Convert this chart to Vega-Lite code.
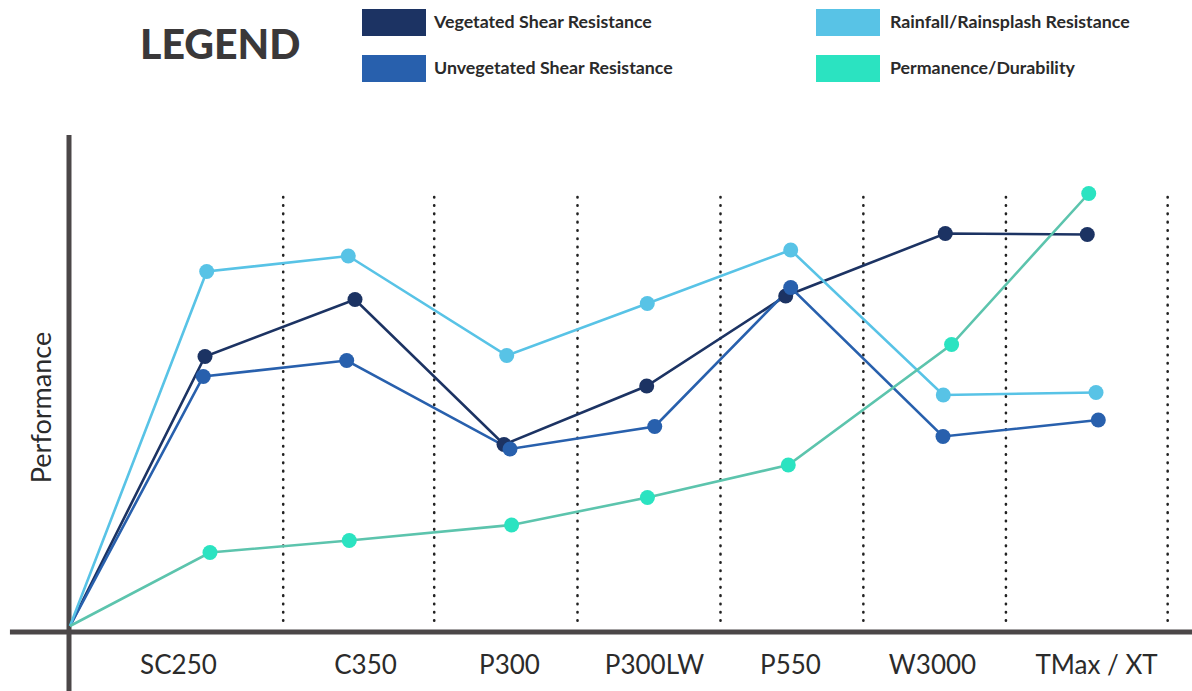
{
  "$schema": "https://vega.github.io/schema/vega-lite/v6.json",
  "width": 1192,
  "height": 691,
  "padding": 0,
  "autosize": {"type": "none"},
  "background": "#ffffff",
  "title": {
    "text": "LEGEND",
    "anchor": "start",
    "frame": "group",
    "orient": "top",
    "offset": 0,
    "dx": 140,
    "dy": 100,
    "baseline": "alphabetic",
    "font": "Lato",
    "fontSize": 41,
    "fontWeight": 900,
    "color": "#3a3839"
  },
  "config": {
    "view": {"stroke": null},
    "axis": {"grid": false, "ticks": false, "tickSize": 0, "domain": false}
  },
  "datasets": {
    "scores": [
      {"series": "Vegetated Shear Resistance", "product": "start", "pos": 0, "score": 0},
      {"series": "Vegetated Shear Resistance", "product": "SC250", "pos": 0.944, "score": 5.39},
      {"series": "Vegetated Shear Resistance", "product": "C350", "pos": 1.993, "score": 6.53},
      {"series": "Vegetated Shear Resistance", "product": "P300", "pos": 3.035, "score": 3.63},
      {"series": "Vegetated Shear Resistance", "product": "P300LW", "pos": 4.033, "score": 4.8},
      {"series": "Vegetated Shear Resistance", "product": "P550", "pos": 5.005, "score": 6.6},
      {"series": "Vegetated Shear Resistance", "product": "W3000", "pos": 6.121, "score": 7.85},
      {"series": "Vegetated Shear Resistance", "product": "TMax / XT", "pos": 7.114, "score": 7.83},
      {"series": "Unvegetated Shear Resistance", "product": "start", "pos": 0, "score": 0},
      {"series": "Unvegetated Shear Resistance", "product": "SC250", "pos": 0.932, "score": 4.99},
      {"series": "Unvegetated Shear Resistance", "product": "C350", "pos": 1.935, "score": 5.31},
      {"series": "Unvegetated Shear Resistance", "product": "P300", "pos": 3.077, "score": 3.54},
      {"series": "Unvegetated Shear Resistance", "product": "P300LW", "pos": 4.089, "score": 3.99},
      {"series": "Unvegetated Shear Resistance", "product": "P550", "pos": 5.04, "score": 6.77},
      {"series": "Unvegetated Shear Resistance", "product": "W3000", "pos": 6.105, "score": 3.79},
      {"series": "Unvegetated Shear Resistance", "product": "TMax / XT", "pos": 7.191, "score": 4.12},
      {"series": "Rainfall/Rainsplash Resistance", "product": "start", "pos": 0, "score": 0},
      {"series": "Rainfall/Rainsplash Resistance", "product": "SC250", "pos": 0.956, "score": 7.09},
      {"series": "Rainfall/Rainsplash Resistance", "product": "C350", "pos": 1.946, "score": 7.4},
      {"series": "Rainfall/Rainsplash Resistance", "product": "P300", "pos": 3.054, "score": 5.41},
      {"series": "Rainfall/Rainsplash Resistance", "product": "P300LW", "pos": 4.037, "score": 6.45},
      {"series": "Rainfall/Rainsplash Resistance", "product": "P550", "pos": 5.04, "score": 7.52},
      {"series": "Rainfall/Rainsplash Resistance", "product": "W3000", "pos": 6.107, "score": 4.62},
      {"series": "Rainfall/Rainsplash Resistance", "product": "TMax / XT", "pos": 7.175, "score": 4.67},
      {"series": "Permanence/Durability", "product": "start", "pos": 0, "score": 0},
      {"series": "Permanence/Durability", "product": "SC250", "pos": 0.979, "score": 1.47},
      {"series": "Permanence/Durability", "product": "C350", "pos": 1.953, "score": 1.71},
      {"series": "Permanence/Durability", "product": "P300", "pos": 3.088, "score": 2.02},
      {"series": "Permanence/Durability", "product": "P300LW", "pos": 4.038, "score": 2.57},
      {"series": "Permanence/Durability", "product": "P550", "pos": 5.023, "score": 3.22},
      {"series": "Permanence/Durability", "product": "W3000", "pos": 6.165, "score": 5.63},
      {"series": "Permanence/Durability", "product": "TMax / XT", "pos": 7.124, "score": 8.65}
    ],
    "dividers": [
      {"pos": 1.491}, {"pos": 2.547}, {"pos": 3.549}, {"pos": 4.549},
      {"pos": 5.548}, {"pos": 6.545}, {"pos": 7.676}
    ]
  },
  "layer": [
    {
      "data": {"name": "dividers"},
      "mark": {"type": "rule", "stroke": "#222222", "strokeWidth": 2.6, "strokeCap": "round", "strokeDash": [0.5, 7.8]},
      "encoding": {
        "x": {"field": "pos", "type": "quantitative", "scale": {"domain": [-0.4895, 7.8462], "nice": false, "zero": false}},
        "y": {"datum": 8.58, "type": "quantitative", "scale": {"domain": [-1.3, 12.52], "nice": false, "zero": false}},
        "y2": {"datum": 0.08}
      }
    },
    {
      "data": {"values": [{"edge": "bottom"}]},
      "mark": {"type": "rule", "stroke": "#4b4748", "strokeWidth": 5},
      "encoding": {
        "x": {"datum": -0.42, "type": "quantitative", "scale": {"domain": [-0.4895, 7.8462], "nice": false, "zero": false}},
        "x2": {"datum": 7.8462},
        "y": {"datum": -0.12, "type": "quantitative", "scale": {"domain": [-1.3, 12.52], "nice": false, "zero": false}}
      }
    },
    {
      "data": {"values": [{"edge": "left"}]},
      "mark": {"type": "rule", "stroke": "#4b4748", "strokeWidth": 5},
      "encoding": {
        "x": {"datum": -0.007, "type": "quantitative", "scale": {"domain": [-0.4895, 7.8462], "nice": false, "zero": false}},
        "y": {"datum": 9.82, "type": "quantitative", "scale": {"domain": [-1.3, 12.52], "nice": false, "zero": false}},
        "y2": {"datum": -1.3}
      }
    },
    {
      "data": {"name": "scores"},
      "mark": {"type": "line", "strokeWidth": 2.6},
      "encoding": {
        "x": {
          "field": "pos",
          "type": "quantitative",
          "scale": {"domain": [-0.4895, 7.8462], "nice": false, "zero": false},
          "axis": {
            "orient": "bottom",
            "offset": -59,
            "title": null,
            "values": [0.755, 2.063, 3.07, 4.084, 5.035, 6.028, 7.175],
            "labelExpr": "datum.value < 1.5 ? 'SC250' : datum.value < 2.5 ? 'C350' : datum.value < 3.5 ? 'P300' : datum.value < 4.5 ? 'P300LW' : datum.value < 5.5 ? 'P550' : datum.value < 6.5 ? 'W3000' : 'TMax / XT'",
            "labelFont": "Lato",
            "labelFontSize": 26,
            "labelColor": "#2b2b2b",
            "labelBaseline": "middle",
            "labelPadding": 33,
            "labelFlush": false,
            "labelOverlap": false,
            "labelBound": false
          }
        },
        "y": {
          "field": "score",
          "type": "quantitative",
          "scale": {"domain": [-1.3, 12.52], "nice": false, "zero": false},
          "axis": {
            "orient": "left",
            "offset": -69,
            "labels": false,
            "title": "Performance",
            "titleFont": "Lato",
            "titleFontSize": 27,
            "titleFontWeight": "normal",
            "titleColor": "#2b2b2b",
            "titleAngle": -90,
            "titleAlign": "center",
            "titleBaseline": "middle",
            "titleX": -27,
            "titleY": 407
          }
        },
        "stroke": {
          "field": "series",
          "type": "nominal",
          "legend": null,
          "scale": {
            "domain": ["Vegetated Shear Resistance", "Unvegetated Shear Resistance", "Rainfall/Rainsplash Resistance", "Permanence/Durability"],
            "range": ["#1c3363", "#2860ad", "#58c3e6", "#5cc4ad"]
          }
        }
      }
    },
    {
      "data": {"name": "scores"},
      "transform": [
        {"filter": "datum.product !== 'start'"},
        {"filter": "datum.series === 'Vegetated Shear Resistance' || datum.series === 'Unvegetated Shear Resistance'"}
      ],
      "mark": {"type": "circle", "size": 225, "opacity": 1},
      "encoding": {
        "x": {"field": "pos", "type": "quantitative"},
        "y": {"field": "score", "type": "quantitative"},
        "fill": {
          "field": "series",
          "type": "nominal",
          "scale": {
            "domain": ["Vegetated Shear Resistance", "Unvegetated Shear Resistance"],
            "range": ["#1c3363", "#2860ad"]
          },
          "legend": {
            "orient": "none",
            "legendX": 362,
            "legendY": 9,
            "title": null,
            "padding": 0,
            "symbolType": "M-1,-0.421875H1V0.421875H-1Z",
            "symbolSize": 4096,
            "symbolStrokeWidth": 0,
            "symbolOpacity": 1,
            "clipHeight": 27,
            "rowPadding": 19,
            "labelOffset": 8,
            "labelFont": "Lato",
            "labelFontSize": 17.8,
            "labelFontWeight": "bold",
            "labelColor": "#2a2a2a",
            "labelLimit": 400
          }
        }
      }
    },
    {
      "data": {"name": "scores"},
      "transform": [
        {"filter": "datum.product !== 'start'"},
        {"filter": "datum.series === 'Rainfall/Rainsplash Resistance' || datum.series === 'Permanence/Durability'"}
      ],
      "mark": {"type": "circle", "size": 225, "opacity": 1},
      "encoding": {
        "x": {"field": "pos", "type": "quantitative"},
        "y": {"field": "score", "type": "quantitative"},
        "fill": {
          "field": "series",
          "type": "nominal",
          "scale": {
            "domain": ["Rainfall/Rainsplash Resistance", "Permanence/Durability"],
            "range": ["#58c3e6", "#2be3c1"]
          },
          "legend": {
            "orient": "none",
            "legendX": 816,
            "legendY": 9,
            "title": null,
            "padding": 0,
            "symbolType": "M-1,-0.421875H1V0.421875H-1Z",
            "symbolSize": 4096,
            "symbolStrokeWidth": 0,
            "symbolOpacity": 1,
            "clipHeight": 27,
            "rowPadding": 19,
            "labelOffset": 10,
            "labelFont": "Lato",
            "labelFontSize": 17.8,
            "labelFontWeight": "bold",
            "labelColor": "#2a2a2a",
            "labelLimit": 400
          }
        }
      }
    }
  ],
  "resolve": {
    "scale": {"fill": "independent"},
    "legend": {"fill": "independent"}
  }
}
